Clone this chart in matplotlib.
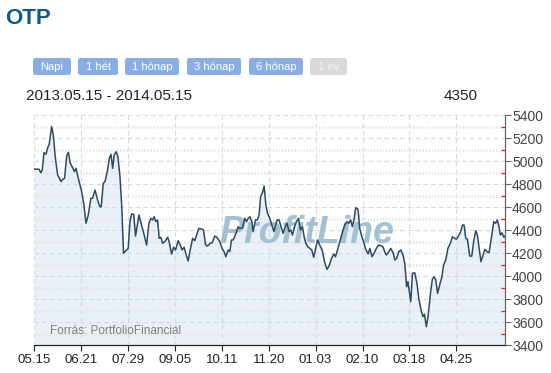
"""
OTP share price, one year (2013.05.15 - 2014.05.15), ProfitLine style chart.
"""

import matplotlib
import matplotlib.pyplot as plt
from matplotlib.patches import FancyBboxPatch

matplotlib.use("Agg")
plt.rcParams["font.family"] = ["Liberation Sans", "DejaVu Sans"]

# trading-day index since 2013.05.15 and closing price (HUF)
days = [
    0.0, 2.7, 3.6, 4.4, 5.3, 6.4, 7.3, 8.1, 9.4, 10.3, 11.3, 12.6, 14.4, 15.3, 16.3, 17.4,
    18.3, 19.3, 20.6, 21.5, 22.4, 23.6, 25.4, 26.6, 27.7, 28.9, 30.3, 31.2, 32.5, 33.9,
    35.1, 35.8, 36.9, 37.8, 39.2, 40.1, 41.0, 41.9, 42.7, 43.8, 44.7, 45.8, 46.7, 47.7,
    49.3, 50.2, 51.1, 52.0, 53.1, 54.1, 55.9, 57.3, 58.7, 60.0, 61.2, 62.3, 63.2, 64.0,
    64.9, 65.8, 66.7, 67.6, 68.5, 69.7, 71.2, 72.0, 73.3, 74.4, 75.4, 76.8, 77.9, 78.9,
    80.0, 81.1, 82.1, 83.2, 84.5, 85.7, 86.8, 87.8, 89.3, 90.3, 91.4, 92.5, 93.8, 94.9,
    96.3, 97.4, 98.8, 100.2, 101.3, 102.2, 103.4, 104.3, 105.2, 106.1, 107.0, 107.9,
    108.7, 109.7, 111.1, 112.3, 113.2, 114.1, 115.0, 116.0, 116.7, 118.0, 118.9, 119.9,
    120.7, 121.7, 122.6, 123.5, 124.4, 125.6, 126.7, 127.8, 128.7, 129.5, 130.6, 131.6,
    132.7, 133.8, 134.8, 135.9, 136.8, 137.7, 138.8, 139.8, 140.9, 142.0, 143.0, 143.9,
    144.8, 145.9, 146.9, 148.0, 149.0,
    151.0, 152.2, 153.5, 154.9, 156.1, 157.2, 158.5, 159.7, 160.6, 161.7, 162.9, 164.1,
    165.5, 166.8, 167.7, 168.7, 169.6, 170.5, 171.4, 172.6, 173.5, 174.4, 175.8, 176.7,
    178.0, 178.9, 180.1, 181.1, 182.4, 183.6, 184.7, 185.9, 186.8, 187.7, 189.0, 190.0,
    191.3, 192.2, 193.2, 194.3, 195.4, 196.6, 197.5, 198.5, 199.2, 200.1, 200.7, 201.6,
    202.8, 204.0, 205.1, 206.4, 207.2, 208.0, 209.0, 209.9, 211.2, 212.2, 213.1, 214.0,
    215.0, 216.1, 217.3, 218.2, 219.3, 220.5, 221.8, 222.9, 224.1, 225.0, 226.4, 227.3,
    228.2, 229.1, 230.0, 230.9, 232.1, 233.2, 234.2, 235.3, 236.2, 237.0, 238.1, 239.2,
    240.2, 241.3, 242.4, 243.6, 244.9, 245.9, 246.8, 247.7, 248.4, 249.3, 250.3, 250.9,
]
price = [
    4933, 4930, 4901, 4924, 5075, 5061, 5118, 5148, 5301, 5229, 5040, 4881, 4823, 4843, 4852, 5046,
    5078, 4983, 4944, 4910, 4939, 4852, 4736, 4620, 4461, 4533, 4678, 4678, 4750, 4663,
    4605, 4605, 4809, 4823, 4924, 5026, 5061, 4939, 5055, 5083, 5040, 4866, 4620, 4200,
    4229, 4243, 4475, 4542, 4539, 4350, 4533, 4446, 4359, 4272, 4461, 4504, 4490, 4518,
    4475, 4490, 4330, 4339, 4287, 4301, 4339, 4301, 4194, 4252, 4229, 4310, 4272, 4229,
    4252, 4185, 4133, 4229, 4330, 4310, 4368, 4417, 4411, 4403, 4272, 4263, 4287, 4292,
    4350, 4339, 4307, 4243, 4214, 4170, 4229, 4214, 4316, 4316, 4350, 4388,
    4431, 4414, 4423, 4504, 4475, 4504, 4518, 4475, 4388, 4490, 4490, 4533,
    4692, 4727, 4785, 4620, 4548, 4504, 4446, 4388, 4446, 4490, 4490, 4431,
    4374, 4431, 4461, 4388, 4403, 4359, 4431, 4475, 4504, 4403, 4431, 4344,
    4287, 4257, 4243, 4229, 4165,
    4316, 4272, 4229, 4118, 4061, 4090, 4156, 4194, 4170, 4229, 4301, 4374,
    4446, 4475, 4461, 4490, 4431, 4496, 4596, 4583, 4417, 4359, 4287, 4235,
    4194, 4243, 4170, 4200, 4243, 4272, 4266, 4257, 4214, 4185, 4214, 4243,
    4205, 4142, 4156, 4214, 4229, 4185, 4113, 3910, 3953, 3852, 3779, 4026,
    4031, 3939, 3794, 3692, 3649, 3672, 3562, 3649, 3852, 3974, 3996, 3968,
    3852, 3924, 3996, 4098, 4142, 4243, 4287, 4344, 4330, 4322, 4359, 4388,
    4446, 4446, 4330, 4322, 4176, 4176, 4301, 4396, 4359, 4257, 4127, 4185,
    4235, 4214, 4205, 4330, 4475, 4461, 4490, 4431, 4359, 4379, 4339, 4350,
]
assert len(days) == len(price)

tick_days = [0, 25, 50, 75, 100, 125, 150, 175, 200, 225]
tick_labels = ["05.15", "06.21", "07.29", "09.05", "10.11",
               "11.20", "01.03", "02.10", "03.18", "04.25"]
buttons = ["Napi", "1 hét", "1 hónap", "3 hónap", "6 hónap", "1 év"]
button_x = [(33, 71), (78, 118), (125, 179), (187, 241), (249, 303), (310, 347)]

W, H = 551, 373


def main():
    fig = plt.figure(figsize=(W / 100, H / 100), dpi=100)
    fig.patch.set_facecolor("white")

    fig.text(5 / W, 1 - 18 / H, "OTP", color="#0d5a8c", fontsize=16,
             fontweight="bold", va="center", ha="left")

    # range buttons
    for i, (label, (x0, x1)) in enumerate(zip(buttons, button_x)):
        active = i < len(buttons) - 1
        box = FancyBboxPatch((x0 / 100, (H - 75) / 100), (x1 - x0) / 100, 17 / 100,
                             boxstyle="round,pad=0,rounding_size=0.025",
                             transform=fig.dpi_scale_trans,
                             facecolor="#8aaee3" if active else "#d9d9d9",
                             edgecolor="none")
        fig.patches.append(box)
        fig.text((x0 + x1) / 2 / W, 1 - 66.5 / H, label,
                 color="white" if active else "#f0f0f0",
                 fontsize=8, ha="center", va="center")

    fig.text(26 / W, 1 - 96 / H, "2013.05.15 - 2014.05.15", fontsize=11,
             color="#222222", va="center", ha="left")
    fig.text(478 / W, 1 - 96 / H, f"{price[-1]}", fontsize=11,
             color="#222222", va="center", ha="right")

    ax = fig.add_axes([34 / W, 1 - 345.3 / H, 471 / W, 230 / H])
    ax.set_xlim(0, days[-1])
    ax.set_ylim(3400, 5400)

    ax.fill_between(days, price, 3400, color="#e9f0f8", linewidth=0, zorder=1)
    ax.plot(days, price, color="#2e4a62", linewidth=1.1, zorder=4)

    ax.text(0.58, 0.49, "ProfitLine", transform=ax.transAxes, fontsize=27,
            fontweight="heavy", fontstyle="italic", color="#a4c0d3",
            ha="center", va="center", zorder=3)
    ax.text(0.034, 0.062, "Forrás: PortfolioFinancial", transform=ax.transAxes,
            fontsize=8.5, color="#808080", ha="left", va="center", zorder=3)

    ax.set_xticks(tick_days)
    ax.set_xticklabels(tick_labels)
    ax.set_yticks(range(3400, 5401, 200))
    ax.set_yticks(range(3500, 5400, 200), minor=True)
    ax.yaxis.tick_right()

    ax.tick_params(axis="x", direction="out", length=4, width=0.8,
                   color="#222222", labelsize=9.5, labelcolor="#222222", pad=2)
    ax.tick_params(axis="y", which="major", direction="out", length=4, width=0.8,
                   color="#666666", labelsize=10, labelcolor="#444444", pad=1)
    ax.tick_params(axis="y", which="minor", direction="in", length=3, width=0.9,
                   color="#e02020")

    ax.grid(axis="x", which="major", linestyle=(0, (4, 3)), color="#d9d9d9",
            linewidth=0.8, zorder=2)
    ax.grid(axis="y", which="major", linestyle=(0, (4, 3)), color="#d9d9d9",
            linewidth=0.8, zorder=2)
    ax.grid(axis="y", which="minor", linestyle=(0, (0.5, 0.6)), color="#e6e6e6",
            linewidth=2.0, zorder=2)
    ax.set_axisbelow(False)

    for side in ("left", "top"):
        ax.spines[side].set_visible(False)
    ax.spines["right"].set_color("#666666")
    ax.spines["right"].set_linewidth(0.9)
    ax.spines["bottom"].set_color("#222222")
    ax.spines["bottom"].set_linewidth(0.9)

    fig.savefig("out.png", dpi=100)
    plt.close(fig)


if __name__ == "__main__":
    main()
